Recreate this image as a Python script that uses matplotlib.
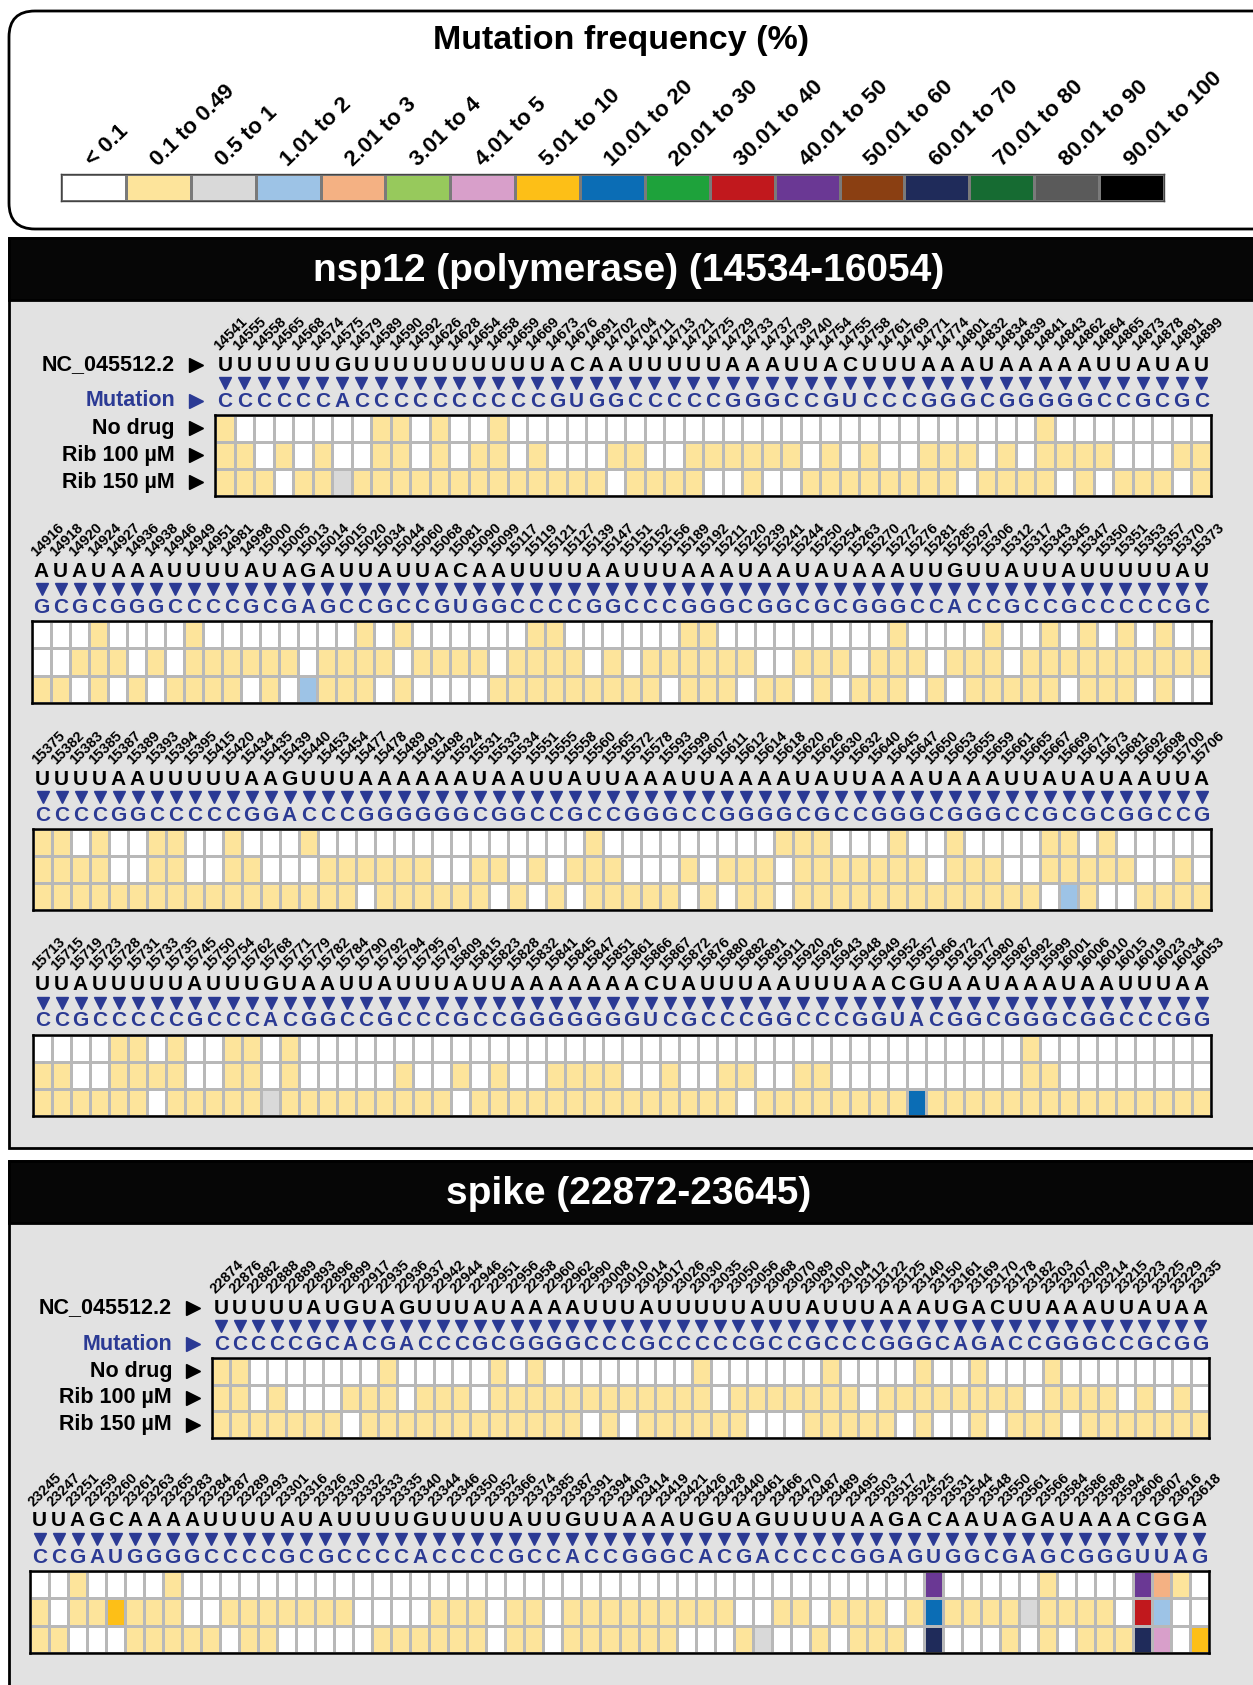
import numpy as np
import matplotlib.pyplot as plt
from matplotlib.colors import ListedColormap, BoundaryNorm
from matplotlib.patches import FancyBboxPatch, Rectangle
from matplotlib.transforms import blended_transform_factory

plt.rcParams['font.family'] = ['Liberation Sans', 'DejaVu Sans']

# frequency classes (%) and their colours
freq_bins = ['< 0.1', '0.1 to 0.49', '0.5 to 1', '1.01 to 2', '2.01 to 3', '3.01 to 4',
             '4.01 to 5', '5.01 to 10', '10.01 to 20', '20.01 to 30', '30.01 to 40',
             '40.01 to 50', '50.01 to 60', '60.01 to 70', '70.01 to 80', '80.01 to 90',
             '90.01 to 100']
bin_colors = ['#ffffff', '#fde49b', '#d9d9d9', '#9dc3e6', '#f4b183', '#97c95c', '#d89fca',
              '#fdbf17', '#0b6db5', '#1ea23b', '#c1181d', '#6a3894', '#8a3f12', '#1f2b5a',
              '#166b32', '#5a5a5a', '#000000']
# one character per site = index into freq_bins (0-9, then a-g)
codes = '0123456789abcdefg'
conditions = ['No drug', 'Rib 100 µM', 'Rib 150 µM']

# ---- nsp12 (polymerase), 14534-16054 ----
nsp12_pos_1 = [14541, 14555, 14558, 14565, 14568, 14574, 14575, 14579, 14589, 14590, 14592,
               14626, 14628, 14654, 14658, 14659, 14669, 14673, 14676, 14691, 14702, 14704,
               14711, 14713, 14721, 14725, 14729, 14733, 14737, 14739, 14740, 14754, 14755,
               14758, 14761, 14769, 14771, 14774, 14801, 14832, 14834, 14839, 14841, 14843,
               14862, 14864, 14865, 14873, 14878, 14891, 14899]
nsp12_ref_1 = 'UUUUUUGUUUUUUUUUUACAAUUUUUAAAUUACUUUAAAUAAAAAUUAUAU'
nsp12_mut_1 = 'CCCCCCACCCCCCCCCCGUGGCCCCCGGGCCGUCCCGGGCGGGGGCCGCGC'
nsp12_freq_1 = ['1000000011 0100100000 0000000000 0000000000 0010000000 0',
                '1101010011 0101101000 1100111111 0101001110 1011110001 1',
                '1110112111 1111111111 0111100100 1111111101 1110101110 1']

nsp12_pos_2 = [14916, 14918, 14920, 14924, 14927, 14936, 14938, 14946, 14949, 14951, 14981,
               14998, 15000, 15005, 15013, 15014, 15015, 15020, 15034, 15044, 15060, 15068,
               15081, 15090, 15099, 15117, 15119, 15121, 15127, 15139, 15147, 15151, 15152,
               15156, 15189, 15192, 15211, 15220, 15239, 15241, 15244, 15250, 15254, 15263,
               15270, 15272, 15276, 15281, 15285, 15297, 15306, 15312, 15317, 15343, 15345,
               15347, 15350, 15351, 15353, 15357, 15370, 15373]
nsp12_ref_2 = 'AUAUAAAUUUUAUAGAUUAUUACAAUUUUAAUUUAAAUAAUAUAAAUUGUUAUUAUUUUUAU'
nsp12_mut_2 = 'GCGCGGGCCCCGCGAGCCGCCGUGGCCCCGGCCCGGGCGGCGCGGGCCACCGCCGCCCCCGC'
nsp12_freq_2 = ['0001000010 0000000101 0000001100 0000110000 0000010000 1001010101 00',
                '0011101011 1111011110 1111011110 1011111100 1110111011 1011111111 11',
                '1101010111 1010311101 0000111111 1110111011 0101110101 1111011101 00']

nsp12_pos_3 = [15375, 15382, 15383, 15385, 15387, 15389, 15393, 15394, 15395, 15415, 15420,
               15434, 15435, 15439, 15440, 15453, 15454, 15477, 15478, 15489, 15491, 15498,
               15524, 15531, 15533, 15534, 15551, 15555, 15558, 15560, 15565, 15572, 15578,
               15593, 15599, 15607, 15611, 15612, 15614, 15618, 15620, 15626, 15630, 15632,
               15640, 15645, 15647, 15650, 15653, 15655, 15659, 15661, 15665, 15667, 15669,
               15671, 15673, 15681, 15692, 15698, 15700, 15706]
nsp12_ref_3 = 'UUUUAAUUUUUAAGUUUAAAAAAUAAUUAUUAAAUUAAAAUAUUAAAUAAAUUAUAUAAUUA'
nsp12_mut_3 = 'CCCCGGCCCCCGGACCCGGGGGGCGGCCGCCGGGCCGGGGCGCCGGGCGGGCCGCGCGGCCG'
nsp12_freq_3 = ['1101001100 1000100000 0000000001 0000000001 1100010010 0001101000 00',
                '1111001100 1100011111 1001101011 1000101110 1111111011 1001111100 10',
                '1111111111 1111111011 1111010101 1111010110 1111111111 1110310011 11']

nsp12_pos_4 = [15713, 15715, 15719, 15723, 15728, 15731, 15733, 15735, 15745, 15750, 15754,
               15762, 15768, 15771, 15779, 15782, 15784, 15790, 15792, 15794, 15795, 15797,
               15809, 15815, 15823, 15828, 15832, 15841, 15845, 15847, 15851, 15861, 15866,
               15867, 15872, 15876, 15880, 15882, 15891, 15911, 15920, 15926, 15943, 15948,
               15949, 15952, 15957, 15966, 15972, 15977, 15980, 15987, 15992, 15999, 16001,
               16006, 16010, 16015, 16019, 16023, 16034, 16053]
nsp12_ref_4 = 'UUAUUUUUAUUUGUAAUUAUUUAUUAAAAAAACUAUUUAAUUUAACGUAAUAAAUAAUUUAA'
nsp12_mut_4 = 'CCGCCCCCGCCCACGGCCGCCCGCCGGGGGGGUCGCCCGGCCCGGUACGGCGGGCGGCCCGG'
nsp12_freq_4 = ['0000110100 1101000000 0000000000 0000000000 0000000000 0010000000 00',
                '1100111100 1101000001 0010100111 1001001100 1100000000 0011000000 00',
                '1111110111 1121111111 1101111111 1111111011 1111118111 1111111111 11']

# ---- spike, 22872-23645 ----
spike_pos_1 = [22874, 22876, 22882, 22888, 22889, 22893, 22896, 22899, 22917, 22935, 22936,
               22937, 22942, 22944, 22946, 22951, 22956, 22958, 22960, 22962, 22990, 23008,
               23010, 23014, 23017, 23026, 23030, 23035, 23050, 23056, 23068, 23070, 23089,
               23100, 23104, 23112, 23122, 23125, 23140, 23150, 23161, 23169, 23170, 23178,
               23182, 23203, 23207, 23209, 23214, 23215, 23223, 23225, 23229, 23235]
spike_ref_1 = 'UUUUUAUGUAGUUUAUAAAAUUUAUUUUUAUUAUUUAAAUGACUUAAAUUAUAA'
spike_mut_1 = 'CCCCCGCACGACCCGCGGGGCCCGCCCCCGCCGCCCGGGCAGACCGGGCCGCGG'
spike_freq_1 = ['1100000001 0000010100 0000001000 0001000010 0100010000 0000',
                '1101000111 0111011111 1111111011 1111101111 1111011110 1010',
                '1111111011 1111111111 0101111110 0011111010 0101110111 1111']

spike_pos_2 = [23245, 23247, 23251, 23259, 23260, 23261, 23263, 23265, 23283, 23284, 23287,
               23289, 23293, 23301, 23316, 23326, 23330, 23332, 23333, 23335, 23340, 23344,
               23346, 23350, 23352, 23366, 23374, 23385, 23387, 23391, 23394, 23403, 23414,
               23419, 23421, 23426, 23428, 23440, 23461, 23466, 23470, 23487, 23489, 23495,
               23503, 23517, 23524, 23525, 23531, 23544, 23548, 23550, 23561, 23566, 23584,
               23586, 23588, 23594, 23606, 23607, 23616, 23618]
spike_ref_2 = 'UUAGCAAAAUUUUAUAUUUUGUUUUAUUGUUAAAUGUAGUUUUAAGACAAUAGAUAAACGGA'
spike_mut_2 = 'CCGAUGGGGCCCCGCGCCCCACCCCGCCACCGGGCACGACCCCGGAGUGGCGAGCGGGUUAG'
spike_freq_2 = ['0010000100 0000000000 0000000000 0000000000 0000000b00 00010000b4 10',
                '1011711100 1111111000 0111011011 1111111001 1011101811 11211110a3 00',
                '1100011111 0110000011 1111011011 1111000120 0101110d00 01010111d6 07']

W, H = 1253, 1685
BLUE = '#2b3a94'
PANEL = '#e2e2e2'
cmap = ListedColormap(bin_colors)
norm = BoundaryNorm(np.arange(len(bin_colors) + 1) - 0.5, len(bin_colors))

fig = plt.figure(figsize=(W / 100, H / 100), dpi=100)
bg = fig.add_axes([0, 0, 1, 1])
bg.set_xlim(0, W)
bg.set_ylim(H, 0)
bg.axis('off')


def px_axes(left, top, right, bottom):
    return fig.add_axes([left / W, 1 - bottom / H, (right - left) / W, (bottom - top) / H])


# legend frame and colour key
bg.add_patch(FancyBboxPatch((9, 11), W + 60, 218, boxstyle='round,pad=0,rounding_size=26',
                            fc='white', ec='black', lw=2))
bg.text(621, 40, 'Mutation frequency (%)', ha='center', va='center',
        fontsize=24.5, fontweight='bold')
lax = px_axes(61, 174, 1164, 201)
lax.pcolormesh(np.arange(len(freq_bins) + 1), [0, 1], np.arange(len(freq_bins))[None, :],
               cmap=cmap, norm=norm, edgecolors='#7a7a7a', linewidth=0.8)
lax.set_xlim(0, len(freq_bins))
lax.set_ylim(0, 1)
lax.set_xticks([])
lax.set_yticks([])
for s in lax.spines.values():
    s.set_linewidth(1.0)
    s.set_color('#444444')
ltr = blended_transform_factory(lax.transData, lax.transAxes)
for i, lab in enumerate(freq_bins):
    lax.text(i + 0.5, 1.25, lab, rotation=44, rotation_mode='anchor', ha='left',
             va='baseline', fontsize=16, fontweight='bold', transform=ltr)

# panels with black title bars
for top, bottom, title in [(238, 1148, 'nsp12 (polymerase) (14534-16054)'),
                           (1161, H + 20, 'spike (22872-23645)')]:
    bg.add_patch(Rectangle((9, top), W + 40, bottom - top, fc=PANEL, ec='black', lw=2))
    bg.add_patch(Rectangle((9, top), W + 40, 62, fc='#060606', ec='black', lw=2))
    bg.text(629, top + 33, title, ha='center', va='center', color='white',
            fontsize=28, fontweight='bold')


def draw_block(box, pos, ref, mut, freq, names):
    left, top, right, bottom = box
    h = bottom - top
    n = len(ref)
    ax = px_axes(left, top, right, bottom)
    ax.patch.set_visible(False)
    grid = np.array([[codes.index(c) for c in row.replace(' ', '')] for row in freq])
    ax.pcolormesh(np.arange(n + 1) - 0.5, np.arange(4), grid, cmap=cmap, norm=norm,
                  edgecolors='#b8b8b8', linewidth=0.8)
    ax.set_xlim(-0.5, n - 0.5)
    ax.set_ylim(3, 0)
    ax.set_xticks([])
    ax.set_yticks([])
    for s in ax.spines.values():
        s.set_linewidth(1.8)
    tr = blended_transform_factory(ax.transData, ax.transAxes)

    def above(px):
        return 1 + px / h

    for i in range(n):
        ax.text(i - 0.3, above(64), str(pos[i]), rotation=45, rotation_mode='anchor',
                ha='left', va='baseline', fontsize=10.5, fontweight='bold', transform=tr)
        ax.text(i, above(50), ref[i], ha='center', va='center', fontsize=15,
                fontweight='bold', transform=tr)
        ax.text(i, above(14), mut[i], ha='center', va='center', fontsize=15,
                fontweight='bold', color=BLUE, transform=tr)
    ax.plot(np.arange(n), np.full(n, above(32)), 'v', color=BLUE, ms=8.5,
            transform=tr, clip_on=False)

    if names:
        rows = [('NC_045512.2', top - 50, 'black'), ('Mutation', top - 14, BLUE)]
        rows += [(c, top + h * (k + 0.5) / 3, 'black') for k, c in enumerate(conditions)]
        for lab, y, col in rows:
            bg.text(left - 40, y, lab, ha='right', va='center', fontsize=15.5,
                    fontweight='bold', color=col)
            bg.plot(left - 19, y, '>', color=col, ms=10)


blocks = [
    ((215, 415, 1211, 496), nsp12_pos_1, nsp12_ref_1, nsp12_mut_1, nsp12_freq_1, True),
    ((32, 621, 1211, 703), nsp12_pos_2, nsp12_ref_2, nsp12_mut_2, nsp12_freq_2, False),
    ((33, 829, 1211, 910), nsp12_pos_3, nsp12_ref_3, nsp12_mut_3, nsp12_freq_3, False),
    ((33, 1035, 1211, 1116), nsp12_pos_4, nsp12_ref_4, nsp12_mut_4, nsp12_freq_4, False),
    ((212, 1358, 1209, 1438), spike_pos_1, spike_ref_1, spike_mut_1, spike_freq_1, True),
    ((30, 1571, 1209, 1653), spike_pos_2, spike_ref_2, spike_mut_2, spike_freq_2, False),
]
for b in blocks:
    draw_block(*b)

fig.savefig('out.png', dpi=100)
